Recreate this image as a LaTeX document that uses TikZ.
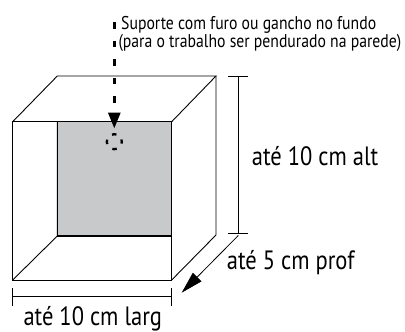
\documentclass[tikz,border=0pt]{standalone}
\usepackage{fontspec}
\setmainfont{PT Sans}[FakeStretch=0.85]
\usetikzlibrary{arrows.meta}
\definecolor{panel}{RGB}{200,201,203}
\begin{document}
\begin{tikzpicture}[x=1pt,y=-1pt,
  edge/.style={line width=0.9pt,black},
  dimline/.style={line width=0.8pt,black},
  big/.style={inner sep=0pt,anchor=base west,font=\fontsize{26.5}{28}\selectfont},
  small/.style={inner sep=0pt,anchor=base west,font=\fontsize{18.5}{20}\selectfont}]
\useasboundingbox (0,0) rectangle (405,332);
% corners
\coordinate (FTL) at (12.7,121.7);
\coordinate (FTR) at (171.7,121.7);
\coordinate (FBL) at (12.7,280);
\coordinate (FBR) at (171.7,280);
\coordinate (BTL) at (57.3,76);
\coordinate (BTR) at (216,76);
\coordinate (BBR) at (216,235);
\coordinate (IBL) at (57.3,236);
\coordinate (IBR) at (171.7,236);
% gray back panel
\fill[panel] (57.3,121.7) rectangle (IBR);
% box edges
\draw[edge] (FTL) rectangle (FBR);
\draw[edge] (FTL) -- (BTL) -- (BTR) -- (FTR);
\draw[edge] (BTR) -- (BBR) -- (FBR);
\draw[edge] (57.3,121.7) -- (IBL) -- (FBL);
\draw[line width=1.4pt] (IBL) -- (IBR);
\draw[line width=1.3pt] (FTL) -- (FTR);
% hook marker
\coordinate (hookTop) at (114.3,22);
\coordinate (hookTip) at (114.3,128.5);
\draw[line width=3pt,dash pattern=on 6.5pt off 12pt,-{Triangle[length=16pt,width=12pt]}] (hookTop) -- (hookTip);
\node[draw,circle,minimum size=15pt,inner sep=0pt,line width=2.3pt,dash pattern=on 4.5pt off 7.3pt,dash phase=2.25pt] (hole) at (114.3,141.7) {};
% height dimension
\coordinate (HT) at (238.3,76);
\coordinate (HB) at (238.3,233.3);
\draw[dimline] (HT) -- (HB);
\draw[dimline] (228,76) -- (248,76);
\draw[dimline] (228,233.3) -- (248,233.3);
% depth arrow
\coordinate (DS) at (238.3,235.5);
\coordinate (DE) at (181.7,292.7);
\draw[dimline,-{Triangle[length=22pt,width=12pt]}] (DS) -- (DE);
% width dimension
\draw[dimline] (12.7,296.7) -- (171.7,296.7);
\draw[dimline] (12.7,288) -- (12.7,306);
\draw[dimline] (171.7,288) -- (171.7,306);
% labels
\node[small] (l1) at (121,30) {Suporte com furo ou gancho no fundo};
\node[small] (l2) at (118.3,47.3) {(para o trabalho ser pendurado na parede)};
\node[big] (alt) at (251.7,165) {até 10 cm alt};
\node[big] (prof) at (226.7,269.3) {até 5 cm prof};
\node[big] (larg) at (23.3,325.7) {até 10 cm larg};
\end{tikzpicture}
\end{document}
